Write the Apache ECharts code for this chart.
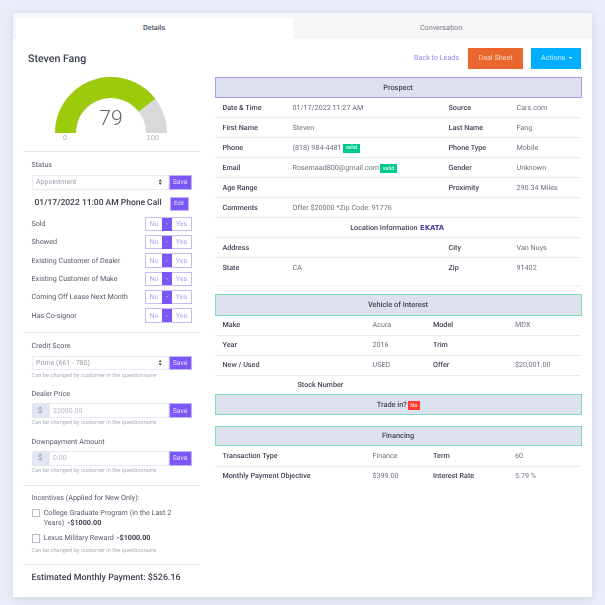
<!DOCTYPE html>
<html>
<head>
<meta charset="utf-8">
<title>Steven Fang</title>
<script src="https://cdn.jsdelivr.net/npm/echarts@6/dist/echarts.min.js"></script>
<style>
	html, body { margin: 0; padding: 0; background: #e9edf8; overflow: hidden; }
	#page { position: absolute; left: 0; top: 0; width: 605px; height: 605px; font-family: Roboto, sans-serif; font-size: 7.2px; color: #666a78; filter: blur(.3px); text-rendering: geometricPrecision; }
	#page div { position: absolute; box-sizing: border-box; white-space: nowrap; }
	#gauge { left: 20px; top: 65px; width: 182px; height: 85px; }
	.t { height: 20px; line-height: 20px; }
	.c { transform: translateX(-50%); }
	.lb { color: #3f4455; font-weight: 500; }
	.vl { color: #6d7180; }
	.fl { color: #565a6a; font-size: 7.2px; }
	.hd { color: #3f4455; font-weight: 500; font-size: 7.4px; }
	.hp { color: #adb0bd; font-size: 5.7px; }
	.ph { color: #9a9dab; font-size: 7px; }
	.wh { color: #e3dcfd; font-size: 6.8px; }
</style>
</head>
<body>
<div id="page"></div>
<script>
	'use strict'

	/* data */
	var scoreValue = [79];
	var scoreRange = [0, 100];
	var scoreTicks = ['0', '100'];

	var tabNames = ['Details', 'Conversation'];
	var flagNames = ['Sold', 'Showed', 'Existing Customer of Dealer', 'Existing Customer of Make', 'Coming Off Lease Next Month', 'Has Co-signor'];
	var flagOptions = ['No', '-', 'Yes'];
	var helpText = 'Can be changed by customer in the questionnaire';

	var prospectLeft = ['Date & Time', 'First Name', 'Phone', 'Email', 'Age Range', 'Comments'];
	var prospectLeftValues = ['01/17/2022 11:27 AM', 'Steven', '(818) 984-4481', 'Rosemaad800@gmail.com', '', 'Offer $20000 *Zip Code: 91776'];
	var prospectRight = ['Source', 'Last Name', 'Phone Type', 'Gender', 'Proximity'];
	var prospectRightValues = ['Cars.com', 'Fang', 'Mobile', 'Unknown', '290.34 Miles'];

	var locationLeft = ['Address', 'State'];
	var locationLeftValues = ['', 'CA'];
	var locationRight = ['City', 'Zip'];
	var locationRightValues = ['Van Nuys', '91402'];

	var vehicleLeft = ['Make', 'Year', 'New / Used'];
	var vehicleLeftValues = ['Acura', '2016', 'USED'];
	var vehicleRight = ['Model', 'Trim', 'Offer'];
	var vehicleRightValues = ['MDX', '', '$20,001.00'];

	var financeLeft = ['Transaction Type', 'Monthly Payment Objective'];
	var financeLeftValues = ['Finance', '$399.00'];
	var financeRight = ['Term', 'Interest Rate'];
	var financeRightValues = ['60', '5.79 %'];

	/* page helpers */
	var page = document.getElementById('page');

	function box(x0, y0, x1, y1, bg, border) {
		var el = document.createElement('div');
		el.style.cssText = 'left:' + x0 + 'px;top:' + y0 + 'px;width:' + (x1 - x0) + 'px;height:' + (y1 - y0) + 'px;background:' + bg + ';' + (border ? 'border:1px solid ' + border + ';' : '');
		page.appendChild(el);
		return el;
	}

	function put(text, x, y, cls, extra) {
		var el = document.createElement('div');
		el.className = 't ' + (cls || '');
		el.textContent = text;
		el.style.cssText = 'left:' + x + 'px;top:' + (y - 10) + 'px;' + (extra || '');
		page.appendChild(el);
		return el;
	}

	function line(x0, x1, y, color) {
		box(x0, y, x1, y + 1, color || '#e9ebf3');
	}

	function arrows(x, y) {
		box(x, y - 3, x + 3.4, y - .4, '#555').style.clipPath = 'polygon(50% 0, 100% 100%, 0 100%)';
		box(x, y + .4, x + 3.4, y + 3, '#555').style.clipPath = 'polygon(0 0, 100% 0, 50% 100%)';
	}

	function saveBtn(y0, y1) {
		box(168.5, y0, 191.5, y1, '#7b57f5', '#c4b2fa');
		put('Save', 180, (y0 + y1) / 2, 'c wh');
	}

	function selectRow(text, y0, y1) {
		box(31.5, y0, 169, y1, '#fff', '#e8eaf6');
		put(text, 36, (y0 + y1) / 2, 'ph');
		arrows(158.5, (y0 + y1) / 2);
		saveBtn(y0, y1);
	}

	function inputRow(text, y0, y1) {
		box(31.5, y0, 49, y1, '#e2e6f1');
		put('$', 40, (y0 + y1) / 2, 'c', 'color:#8d91a3;font-size:8px;');
		box(49, y0, 169, y1, '#fff', '#e8eaf6');
		put(text, 53, (y0 + y1) / 2, 'ph', 'color:#b4b7c3;');
		saveBtn(y0, y1);
	}

	function header(text, y0, y1, border) {
		box(214.7, y0, 581.7, y1, '#dde1ee', border);
		if (text) put(text, 398, (y0 + y1) / 2, 'c hd');
	}

	function badge(text, x0, x1, y0, y1, color) {
		box(x0, y0, x1, y1, color);
		put(text, (x0 + x1) / 2, (y0 + y1) / 2, 'c', 'color:#fff;font-size:5.6px;');
	}

	function rows(labels, values, labelX, valueX, y0, step) {
		labels.forEach(function (label, i) {
			put(label, labelX, y0 + i * step, 'lb');
			put(values[i], valueX, y0 + i * step, 'vl');
		});
	}

	/* card and tabs */
	box(13, 12.5, 592, 597, '#fff').style.boxShadow = '0 2px 8px rgba(120,130,180,.22)';
	box(13, 12.5, 592, 37.5, '#f7f7f7');
	line(13, 592, 37, '#eeeeee');
	box(16, 18, 292.5, 38, '#fff');
	put(tabNames[0], 154, 28, 'c', 'color:#4a4e5e;font-weight:500;');
	put(tabNames[1], 441, 28, 'c', 'color:#747886;');

	/* left column */
	put('Steven Fang', 28, 58.5, '', 'color:#3a4052;font-size:10.6px;font-weight:500;');
	line(23, 199.5, 151, '#e6e9f2');

	put('Status', 31.5, 165, 'fl');
	selectRow('Appointment', 174.5, 189.5);
	put('01/17/2022 11:00 AM Phone Call', 34.5, 203, '', 'color:#3a3d48;font-size:8.5px;font-weight:500;');
	box(169.5, 197, 188.5, 210.5, '#7b57f5', '#c4b2fa');
	put('Edit', 179, 203.7, 'c wh', 'font-size:6px;');

	flagNames.forEach(function (name, i) {
		var cy = 224 + i * 18.3;
		put(name, 31.5, cy, 'fl');
		box(145.3, cy - 7.2, 191.7, cy + 7.2, '#fff', '#c9b9fb');
		box(162, cy - 6.5, 172.3, cy + 6.5, '#7b57f5');
		put(flagOptions[0], 154, cy, 'c', 'color:#b3a0f8;font-size:7px;');
		put(flagOptions[1], 167.2, cy, 'c', 'color:#d9cffd;font-size:7px;');
		put(flagOptions[2], 181.5, cy, 'c', 'color:#b3a0f8;font-size:7px;');
	});
	line(23, 199.5, 332, '#e6e9f2');

	put('Credit Score', 31.5, 346, 'fl');
	selectRow('Prime (661 - 780)', 355.5, 370);
	put(helpText, 31.5, 375.7, 'hp');

	put('Dealer Price', 31.5, 394, 'fl');
	inputRow('22000.00', 403.3, 418);
	put(helpText, 31.5, 423.3, 'hp');

	put('Downpayment Amount', 31.5, 441.6, 'fl');
	inputRow('0.00', 451, 465.5);
	put(helpText, 31.5, 471, 'hp');
	line(23, 199.5, 484.5, '#e6e9f2');

	put('Incentives (Applied for New Only):', 31.5, 498, 'fl');
	box(31.5, 508.5, 40, 517, '#fff', '#b9bdca');
	put('College Graduate Program (in the Last 2', 43.7, 512.5, 'fl');
	put('Years)', 43.7, 523, 'fl');
	put('-$1000.00', 67.5, 523, '', 'color:#3f4455;font-size:7.2px;font-weight:700;');
	box(31.5, 534, 40, 542.5, '#fff', '#b9bdca');
	put('Lexus Military Reward', 43.7, 537.8, 'fl');
	put('-$1000.00', 116.7, 537.8, '', 'color:#3f4455;font-size:7.2px;font-weight:700;');
	put(helpText, 31.5, 551, 'hp');
	line(23, 199.5, 564, '#e6e9f2');
	put('Estimated Monthly Payment: $526.16', 31.5, 577.5, '', 'color:#3a4052;font-size:8.9px;font-weight:500;');

	/* top right buttons */
	put('Back to Leads', 414, 58, '', 'color:#9d80f6;');
	box(468.3, 48, 523, 69, '#e9662e');
	put('Deal Sheet', 495.5, 58, 'c', 'color:#fbd6c4;');
	box(531, 48, 581.3, 69, '#00aeff');
	put('Actions', 541, 58.3, '', 'color:#d4f0ff;');
	box(568.5, 57, 572.5, 59.2, '#e4f6ff').style.clipPath = 'polygon(0 0, 100% 0, 50% 100%)';

	/* prospect */
	header('Prospect', 77, 98, '#ab97ee');
	rows(prospectLeft, prospectLeftValues, 222.5, 292.5, 107.5, 20);
	rows(prospectRight, prospectRightValues, 448.5, 516.5, 107.5, 20);
	[117, 137, 157, 177, 197, 217, 237, 257].forEach(function (y) { line(214.7, 581.5, y); });
	badge('valid', 342.5, 360, 144, 152.5, '#00c98d');
	badge('valid', 380, 397, 164, 173, '#00c98d');
	put('Location Information', 350.2, 227.5, 'lb');
	put('EKATA', 420, 228, '', 'color:#4f3c9a;font-size:6.8px;font-weight:900;font-family:"DejaVu Sans",sans-serif;');
	rows(locationLeft, locationLeftValues, 222.5, 292.5, 247.5, 20);
	rows(locationRight, locationRightValues, 448.5, 516.5, 247.5, 20);
	box(214.7, 285, 581.5, 287, '#f6f7fb');

	/* vehicle */
	header('Vehicle of Interest', 294, 315.5, '#7fdcc0');
	rows(vehicleLeft, vehicleLeftValues, 222.5, 372.5, 324.5, 20);
	rows(vehicleRight, vehicleRightValues, 433, 515, 324.5, 20);
	[334.5, 354.5, 374.5].forEach(function (y) { line(214.7, 581.5, y); });
	put('Stock Number', 297.5, 385, 'lb');

	/* trade in */
	header('', 394, 415, '#7fdcc0');
	put('Trade in?', 376.7, 404.5, 'hd');
	badge('No', 407.5, 420, 401, 410, '#ff3b30');

	/* financing */
	header('Financing', 425.7, 446, '#7fdcc0');
	rows(financeLeft, financeLeftValues, 222.5, 372.5, 456, 19.8);
	rows(financeRight, financeRightValues, 433, 515, 456, 19.8);
	line(214.7, 581.5, 465.5);

	/* gauge */
	var chartEl = document.createElement('div');
	chartEl.id = 'gauge';
	page.appendChild(chartEl);
	var gauge = echarts.init(chartEl);
	var option = {
		animation: false,
		series: [{
			type: 'gauge',
			center: [91, 68],
			radius: 56,
			startAngle: 180,
			endAngle: 0,
			min: scoreRange[0],
			max: scoreRange[1],
			splitNumber: 1,
			pointer: { show: false },
			axisTick: { show: false },
			splitLine: { show: false },
			axisLine: {
				lineStyle: { width: 21, color: [[1, '#d9d9d9']] }
			},
			progress: {
				show: true,
				width: 21,
				itemStyle: { color: '#9bcb0a' }
			},
			axisLabel: {
				distance: -12,
				color: '#b0b0b0',
				fontSize: 7.5,
				lineHeight: 10,
				formatter: function (v) { return '\n' + scoreTicks[v === scoreRange[0] ? 0 : 1]; }
			},
			title: { show: false },
			detail: {
				valueAnimation: false,
				offsetCenter: [0, -13],
				color: '#666666',
				fontSize: 21,
				fontWeight: 300,
				fontFamily: 'Roboto',
				formatter: '{value}'
			},
			data: [{ value: scoreValue[0] }]
		}]
	};
	gauge.setOption(option);
</script>
</body>
</html>
